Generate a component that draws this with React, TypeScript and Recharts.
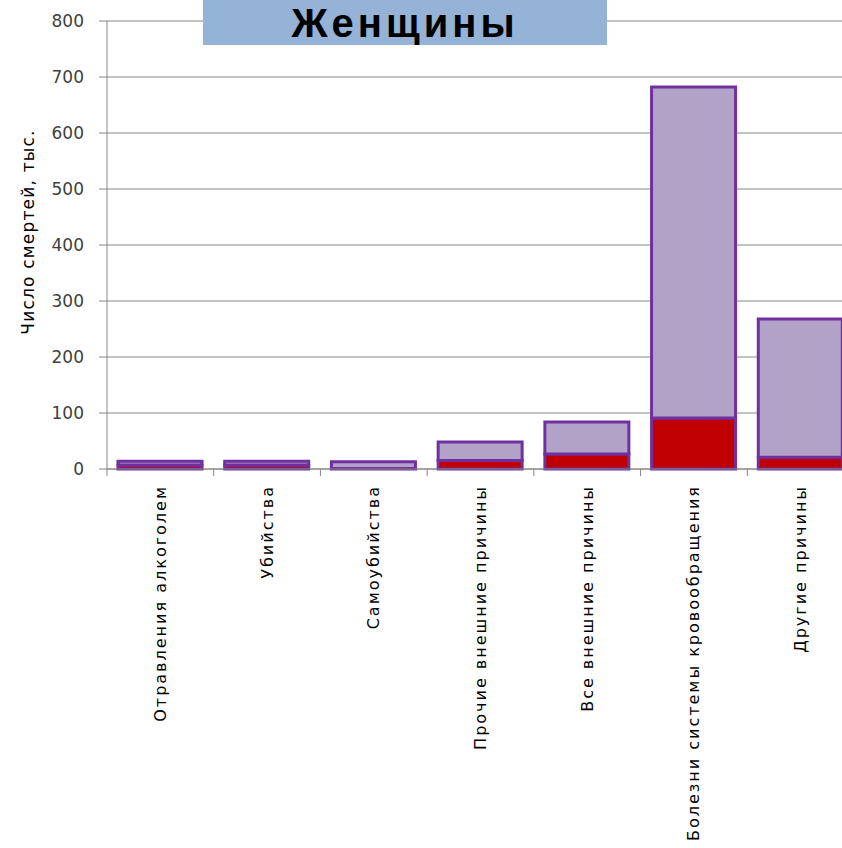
import React from "react";
import { BarChart, Bar, XAxis, YAxis, CartesianGrid } from "recharts";

const causes = [
  "Отравления алкоголем",
  "Убийства",
  "Самоубийства",
  "Прочие внешние причины",
  "Все внешние причины",
  "Болезни системы кровообращения",
  "Другие причины",
];
// нижняя часть столбца (красная)
const alcoholRelated = [7, 7, 1, 15, 27, 91, 21];
// верхняя часть столбца (сиреневая)
const otherDeaths = [7, 7, 12, 33, 57, 591, 247];
const yTicks = [0, 100, 200, 300, 400, 500, 600, 700, 800];

const data = causes.map((name, i) => ({
  name,
  alcohol: alcoholRelated[i],
  other: otherDeaths[i],
}));

const CHART_W = 880;
const CHART_H = 848;
const PLOT_LEFT = 107;
const RIGHT = 26;
const BAND = (CHART_W - PLOT_LEFT - RIGHT) / causes.length;

const GRID = "#868686";
const OUTLINE = "#7030A0";

function CauseTick(props: any) {
  const { x, y, payload, index } = props;
  const left = x - BAND / 2;
  return (
    <g>
      <line x1={left} y1={y} x2={left} y2={y + 7} stroke={GRID} strokeWidth={1} />
      {index === causes.length - 1 && (
        <line x1={x + BAND / 2} y1={y} x2={x + BAND / 2} y2={y + 7} stroke={GRID} strokeWidth={1} />
      )}
      <text
        x={x}
        y={y + 16}
        transform={`rotate(-90, ${x}, ${y + 16})`}
        textAnchor="end"
        dominantBaseline="central"
        fontFamily="DejaVu Sans"
        fontSize={16}
        letterSpacing={2}
        fill="#000"
      >
        {payload.value}
      </text>
    </g>
  );
}

export default function App() {
  return (
    <div
      style={{
        position: "fixed",
        left: 0,
        top: 0,
        width: 842,
        height: 848,
        overflow: "hidden",
        background: "#fff",
      }}
    >
      <BarChart
        width={CHART_W}
        height={CHART_H}
        data={data}
        margin={{ top: 21, right: RIGHT, left: 0, bottom: 0 }}
      >
        <CartesianGrid vertical={false} stroke={GRID} strokeWidth={1} />
        <XAxis
          dataKey="name"
          height={CHART_H - 469}
          interval={0}
          tickSize={0}
          tickMargin={0}
          tickLine={false}
          axisLine={{ stroke: GRID }}
          tick={<CauseTick />}
        />
        <YAxis
          width={PLOT_LEFT}
          domain={[0, 800]}
          ticks={yTicks}
          interval={0}
          tickSize={8}
          tickMargin={15}
          tickLine={{ stroke: GRID }}
          axisLine={{ stroke: GRID }}
          tick={{ fontFamily: "DejaVu Sans", fontSize: 17, fill: "#404040" }}
          label={{
            content: () => (
              <text
                x={28}
                y={232}
                transform="rotate(-90, 28, 232)"
                textAnchor="middle"
                dominantBaseline="central"
                fontFamily="DejaVu Sans"
                fontSize={17}
                letterSpacing={1.2}
                fill="#000"
              >
                Число смертей, тыс.
              </text>
            ),
          }}
        />
        <Bar
          dataKey="alcohol"
          stackId="a"
          fill="#C00000"
          stroke={OUTLINE}
          strokeWidth={3}
          barSize={84}
          isAnimationActive={false}
        />
        <Bar
          dataKey="other"
          stackId="a"
          fill="#B3A2C7"
          stroke={OUTLINE}
          strokeWidth={3}
          barSize={84}
          isAnimationActive={false}
        />
      </BarChart>
      <div
        style={{
          position: "absolute",
          left: 203,
          top: 0,
          width: 404,
          height: 45,
          background: "#95B3D7",
          textAlign: "center",
          fontFamily: "Liberation Sans, Arial, sans-serif",
          fontWeight: "bold",
          fontSize: 40,
          letterSpacing: 4,
          lineHeight: "46px",
          color: "#000",
        }}
      >
        Женщины
      </div>
    </div>
  );
}
